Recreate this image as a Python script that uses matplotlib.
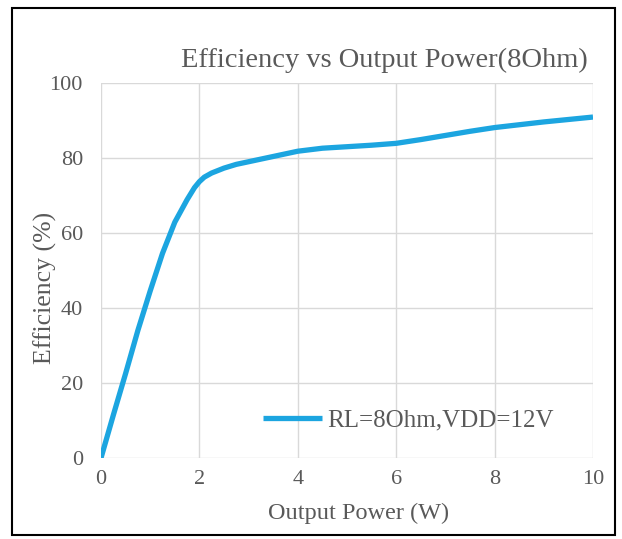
import matplotlib.pyplot as plt
from matplotlib.patches import Rectangle

# data
powerW = [0, 0.25, 0.5, 0.75, 1.0, 1.25, 1.5, 1.75, 1.9, 2.0, 2.1, 2.25, 2.5, 2.75, 3.0, 3.5,
          4.0, 4.5, 5.0, 5.5, 6.0, 6.5, 7.0, 7.5, 8.0, 9.0, 10.0]
efficiency = [0, 11.4, 22.5, 34, 44.5, 54.5, 62.8, 68.8, 72.0, 73.6, 74.8, 75.9, 77.2, 78.2, 78.9, 80.3,
              81.7, 82.5, 82.9, 83.3, 83.8, 84.8, 85.9, 87.0, 88.0, 89.5, 90.8]
xTicks = [0, 2, 4, 6, 8, 10]
yTicks = [0, 20, 40, 60, 80, 100]
seriesLabel = "RL=8Ohm,VDD=12V"

textColor = '#595959'
gridColor = '#d9d9d9'
lineColor = '#1ca5e0'

W, H = 622, 539

plt.rcParams['font.family'] = ['Liberation Serif', 'DejaVu Serif']

fig = plt.figure(figsize=(W/100, H/100), dpi=100)
ax = fig.add_axes([101/W, 1 - 458/H, 492/W, 375.5/H])

ax.plot(powerW, efficiency, color=lineColor, linewidth=3.8,
        solid_capstyle='butt', solid_joinstyle='round', label=seriesLabel)

ax.set_xlim(0, 10)
ax.set_ylim(0, 100)
ax.set_xticks(xTicks)
ax.set_yticks(yTicks)
ax.grid(True, color=gridColor, linewidth=1.0)
ax.set_axisbelow(True)
for s in ax.spines.values():
	s.set_visible(False)
ax.tick_params(length=0, labelsize=16, colors=textColor)
ax.tick_params(axis='x', pad=9)
ax.tick_params(axis='y', pad=13)

# axis titles and chart title placed in figure pixels
fig.text(359/W, 1 - 513/H, "Output Power (W)", ha='center', va='center',
         fontsize=17.5, color=textColor)
fig.text(45/W, 1 - 288/H, "Efficiency (%)", ha='center', va='center',
         rotation=90, fontsize=18.5, color=textColor)
fig.text(384/W, 1 - 60/H, "Efficiency vs Output Power(8Ohm)",
         ha='center', va='center', fontsize=20.5, color=textColor)

leg = ax.legend(loc='center left', frameon=False, fontsize=18, handlelength=2.36,
                handletextpad=0.2, borderpad=0, borderaxespad=0,
                bbox_to_anchor=((263 - 101)/492, (458 - 420)/375.5))
for t in leg.get_texts():
	t.set_color(textColor)

# outer frame
fig.patches.append(Rectangle((12/W, 1 - 535/H), 603/W, 527/H,
                             transform=fig.transFigure, fill=False,
                             edgecolor='black', linewidth=1.5))

fig.savefig('out.png', dpi=100)
